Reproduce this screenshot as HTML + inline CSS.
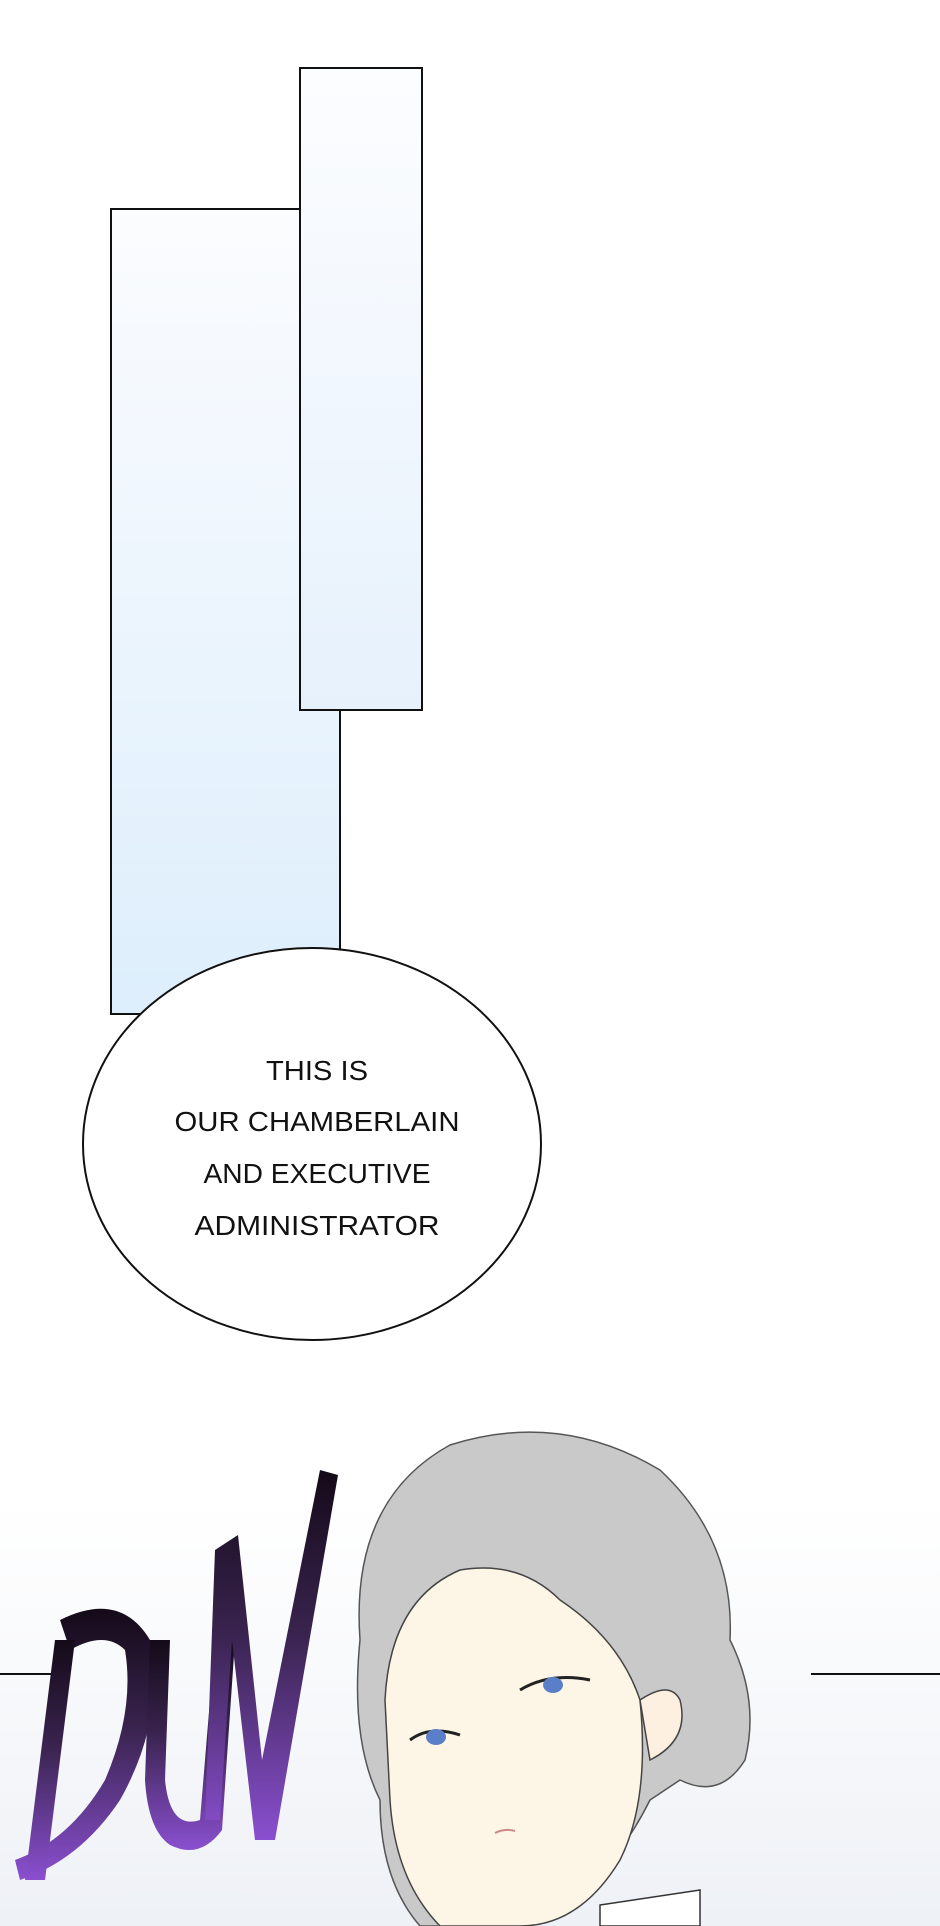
<!DOCTYPE html>
<html><head><meta charset="utf-8"><style>
html,body{margin:0;padding:0;background:#fff;}
svg{display:block}
</style></head><body>
<svg width="940" height="1926" viewBox="0 0 940 1926" xmlns="http://www.w3.org/2000/svg">
<defs>
<linearGradient id="pb" x1="0" y1="0" x2="0" y2="1">
<stop offset="0" stop-color="#fbfcfe"/><stop offset="1" stop-color="#ddeefc"/></linearGradient>
<linearGradient id="pb2" x1="0" y1="0" x2="0" y2="1">
<stop offset="0" stop-color="#fcfdff"/><stop offset="1" stop-color="#e6f1fc"/></linearGradient>
<linearGradient id="dun" x1="0" y1="0" x2="0" y2="1">
<stop offset="0" stop-color="#140a18"/><stop offset="0.45" stop-color="#3a2450"/><stop offset="1" stop-color="#8a4fd0"/></linearGradient>
<linearGradient id="bottom" x1="0" y1="0" x2="0" y2="1">
<stop offset="0" stop-color="#fff"/><stop offset="1" stop-color="#eef1f6"/></linearGradient>
</defs>
<rect x="0" y="1500" width="940" height="426" fill="url(#bottom)"/>
<rect x="111" y="209" width="229" height="805" fill="url(#pb)" stroke="#111" stroke-width="2"/>
<rect x="300" y="68" width="122" height="642" fill="url(#pb2)" stroke="#111" stroke-width="2"/>
<ellipse cx="312" cy="1144" rx="229" ry="196" fill="#fff" stroke="#111" stroke-width="2"/>
<g font-family="Liberation Sans, sans-serif" font-size="28" fill="#111" text-anchor="middle">
<text x="317" y="1080" textLength="102" lengthAdjust="spacingAndGlyphs">THIS IS</text>
<text x="317" y="1131" textLength="285" lengthAdjust="spacingAndGlyphs">OUR CHAMBERLAIN</text>
<text x="317" y="1183" textLength="227" lengthAdjust="spacingAndGlyphs">AND EXECUTIVE</text>
<text x="317" y="1235" textLength="245" lengthAdjust="spacingAndGlyphs">ADMINISTRATOR</text>
</g>
<line x1="0" y1="1674" x2="60" y2="1674" stroke="#111" stroke-width="2"/>
<line x1="811" y1="1674" x2="940" y2="1674" stroke="#111" stroke-width="2"/>
<!-- DUN -->
<g fill="url(#dun)">
<path d="M60 1620 Q120 1590 150 1640 Q165 1720 120 1800 Q80 1860 20 1880 L15 1860 Q70 1840 105 1780 Q135 1710 125 1650 Q105 1630 70 1650 Z"/>
<path d="M55 1640 L75 1640 L45 1880 L25 1880 Z"/>
<path d="M150 1640 L170 1640 L165 1780 Q170 1830 200 1820 L215 1640 L235 1640 L222 1830 Q200 1860 170 1845 Q148 1830 145 1780 Z"/>
<path d="M215 1550 L238 1535 L262 1760 L320 1470 L338 1475 L275 1840 L255 1840 L232 1640 L220 1820 L205 1820 Z"/>
</g>
<!-- character -->
<path d="M360 1640 Q350 1500 450 1445 Q560 1410 660 1470 Q735 1540 730 1640 Q760 1700 745 1760 Q720 1800 680 1780 L650 1800 Q600 1900 520 1926 L420 1926 Q380 1880 380 1800 Q350 1740 360 1640 Z" fill="#c9c9c9" stroke="#555" stroke-width="1.5"/>
<path d="M385 1700 Q390 1600 460 1570 Q520 1560 560 1600 Q620 1640 640 1700 Q650 1800 620 1860 Q580 1926 520 1926 L440 1926 Q395 1880 390 1800 Z" fill="#fdf6e6" stroke="#444" stroke-width="1.5"/>
<path d="M640 1700 Q670 1680 680 1700 Q690 1740 650 1760 Z" fill="#fdf0e0" stroke="#444" stroke-width="1.5"/>
<path d="M410 1740 Q430 1725 460 1735" stroke="#222" stroke-width="3" fill="none"/>
<path d="M520 1690 Q550 1672 590 1680" stroke="#222" stroke-width="3" fill="none"/>
<ellipse cx="436" cy="1737" rx="10" ry="8" fill="#5a7fc8"/>
<ellipse cx="553" cy="1685" rx="10" ry="8" fill="#5a7fc8"/>
<path d="M495 1833 Q505 1828 515 1831" stroke="#c88" stroke-width="2" fill="none"/>
<path d="M600 1905 L700 1890 L700 1926 L600 1926 Z" fill="#fff" stroke="#333" stroke-width="1.5"/>
</svg>
</body></html>
